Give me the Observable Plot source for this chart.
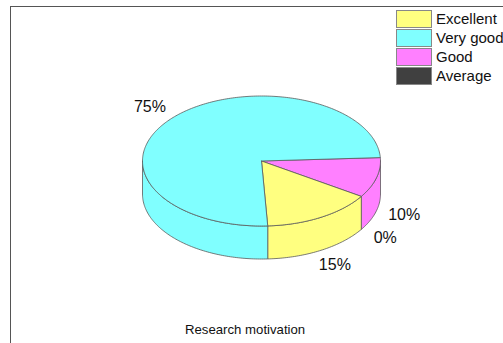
<!DOCTYPE html>
<html>
<head>
<meta charset="utf-8">
<script src="https://cdn.jsdelivr.net/npm/d3@7"></script>
<script src="https://cdn.jsdelivr.net/npm/@observablehq/plot@0.6"></script>
<style>
html,body{margin:0;padding:0;background:#fff;overflow:hidden}
#wrap{position:relative;width:503px;height:343px;overflow:hidden;font-family:"Liberation Sans",Arial,sans-serif;color:#111}
#wrap svg{position:absolute;left:0;top:0;background:transparent}
#frame{position:absolute;left:10px;top:6px;width:500px;height:345px;border-left:1.6px solid #555;border-top:1.6px solid #555}
.sw{position:absolute;left:396px;width:34px;border:1px solid #888;box-sizing:content-box}
.lb{position:absolute;left:436px;font-size:15px;line-height:17px;white-space:nowrap}
#title{position:absolute;left:185px;top:323px;font-size:13.2px;line-height:14px;white-space:nowrap}
</style>
</head>
<body>
<div id="wrap"><div id="frame"></div></div>
<script>
// Legend order
const categories = ["Excellent", "Very good", "Good", "Average"];
const shares = [15, 75, 10, 0];
const colors = ["#FFFF80", "#80FFFF", "#FF80FF", "#404040"];
// Clockwise drawing order of the slices
const sliceOrder = ["Good", "Average", "Excellent", "Very good"];
const startAngle = 3;   // degrees above east
const depth = 0.508;    // pie thickness, in units of the vertical radius
const labelRadius = 1.25;
const chartTitle = "Research motivation";

const rad = d => d * Math.PI / 180;
let cursor = startAngle;
const slices = sliceOrder.map(name => {
  const i = categories.indexOf(name);
  const a0 = cursor, a1 = cursor - shares[i] * 3.6;
  cursor = a1;
  return {name, share: shares[i], color: colors[i], a0, a1};
});
const arc = (a0, a1, dz = 0) => {
  const n = Math.max(1, Math.ceil(Math.abs(a0 - a1)));
  return d3.range(n + 1).map(k => {
    const a = rad(a0 + (a1 - a0) * k / n);
    return {x: Math.cos(a), y: Math.sin(a) - dz};
  });
};
const poly = (pts, fill) => Plot.line(pts, {x: "x", y: "y", fill, stroke: "#5a5a5a", strokeWidth: 0.8, curve: "linear"});

const marks = [];
// Side walls: only the front half (angles 0 to -180) is visible
for (const s of slices) {
  if (!s.share) continue;
  const from = Math.min(s.a0, 0), to = Math.max(s.a1, -180);
  if (from <= to) continue;
  const top = arc(from, to), bottom = arc(to, from, depth);
  marks.push(poly([...top, ...bottom, top[0]], s.color));
}
// Top faces
for (const s of slices) {
  if (!s.share) continue;
  const c = {x: 0, y: 0};
  marks.push(poly([c, ...arc(s.a0, s.a1), c], s.color));
}
// Percent labels
const labels = slices.map(s => {
  const m = rad((s.a0 + s.a1) / 2);
  const sn = Math.sin(m);
  return {x: labelRadius * Math.cos(m), y: labelRadius * sn - (sn < 0 ? depth : 0), t: s.share + "%"};
});
marks.push(Plot.text(labels, {x: "x", y: "y", text: "t", fontSize: 16, dx: -1, fill: "#111", fontFamily: "Liberation Sans, Arial, sans-serif"}));

const chart = Plot.plot({
  width: 503, height: 343,
  margin: 0,
  x: {domain: [-1, 1], range: [142, 380], axis: null},
  y: {domain: [-1, 1], range: [225.5, 95.5], axis: null},
  marks
});
const wrap = document.getElementById("wrap");
wrap.appendChild(chart);

// Legend and caption
categories.forEach((c, i) => {
  const sw = document.createElement("div");
  sw.className = "sw";
  sw.style.top = (10 + i * 19) + "px";
  sw.style.height = "15.5px";
  sw.style.background = colors[i];
  wrap.appendChild(sw);
  const lb = document.createElement("div");
  lb.className = "lb";
  lb.style.top = (9.5 + i * 19) + "px";
  lb.textContent = c;
  wrap.appendChild(lb);
});
const t = document.createElement("div");
t.id = "title";
t.textContent = chartTitle;
wrap.appendChild(t);
</script>
</body>
</html>
